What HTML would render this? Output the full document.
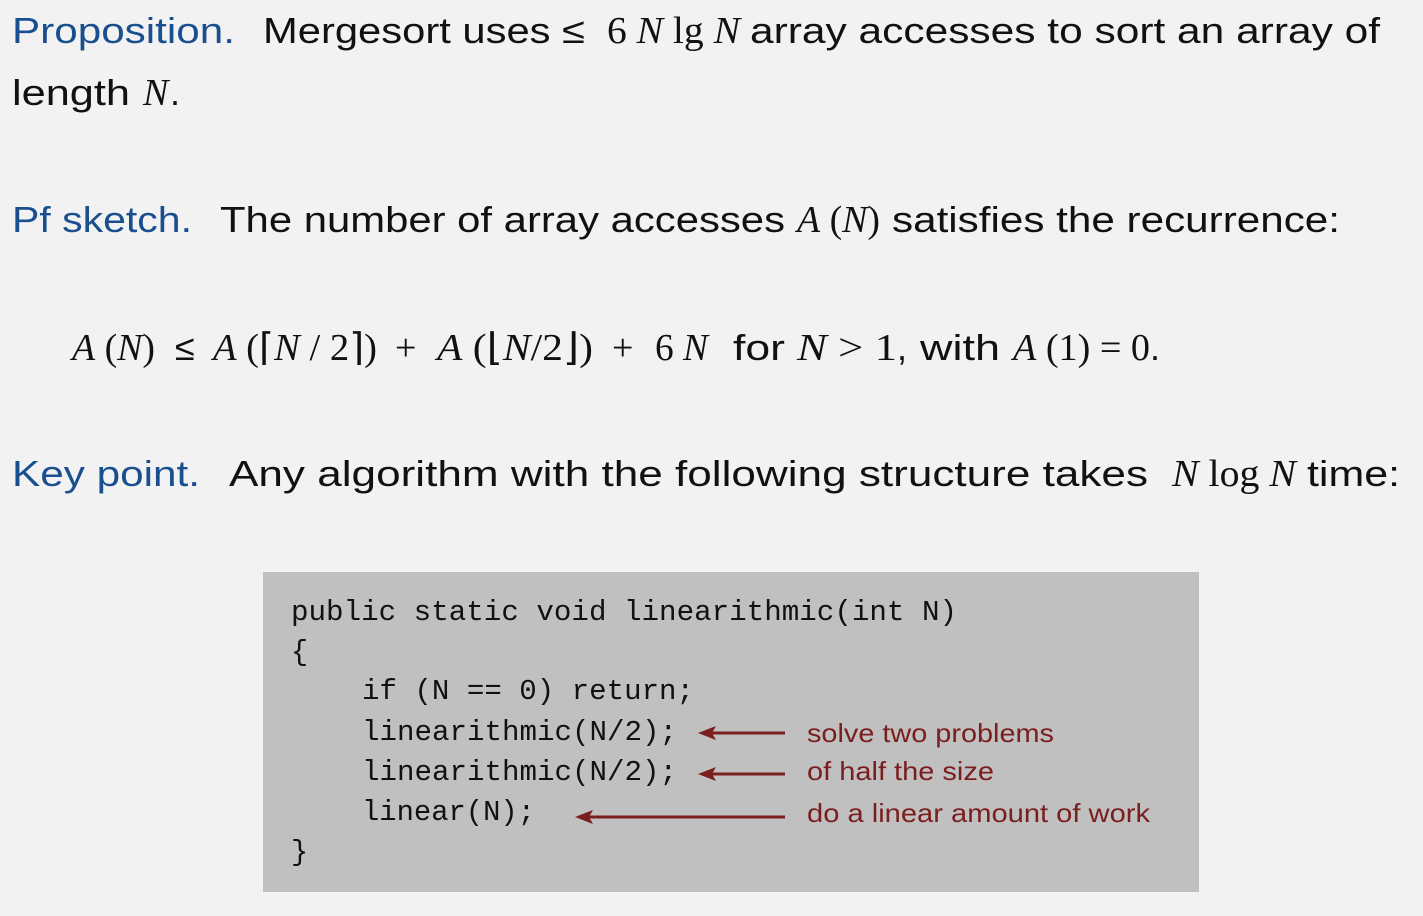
<!DOCTYPE html>
<html><head><meta charset="utf-8"><style>
html,body{margin:0;padding:0;background:#f2f2f2;}
svg{display:block}
.s{font-family:"Liberation Sans",sans-serif;font-size:36px;fill:#111}
.b{fill:#1a4f8f}
.m{font-family:"Liberation Serif",serif;font-size:38px;fill:#111}
.i{font-style:italic}
.c{font-family:"Liberation Mono",monospace;font-size:28.5px;fill:#111}
.r{font-family:"Liberation Sans",sans-serif;font-size:26px;fill:#7a1e1e}
</style></head><body>
<svg width="1423" height="916" xmlns="http://www.w3.org/2000/svg">
<rect width="1423" height="916" fill="#f2f2f2"/>
<text class="s b" x="12" y="43" textLength="223" lengthAdjust="spacingAndGlyphs">Proposition.</text>
<text class="s" x="263" y="43" textLength="322" lengthAdjust="spacingAndGlyphs">Mergesort uses ≤</text>
<text class="m" x="607" y="43" textLength="133" lengthAdjust="spacingAndGlyphs">6 <tspan class="i">N</tspan> lg <tspan class="i">N</tspan></text>
<text class="s" x="750" y="43" textLength="630" lengthAdjust="spacingAndGlyphs">array accesses to sort an array of</text>
<text class="s" x="12" y="105" textLength="118" lengthAdjust="spacingAndGlyphs">length</text>
<text class="m i" x="143" y="105">N</text><text class="s" x="170" y="105">.</text>

<text class="s b" x="12" y="232" textLength="180" lengthAdjust="spacingAndGlyphs">Pf sketch.</text>
<text class="s" x="220" y="232" textLength="565" lengthAdjust="spacingAndGlyphs">The number of array accesses</text>
<text class="m" x="797" y="232" textLength="83" lengthAdjust="spacingAndGlyphs"><tspan class="i">A</tspan> (<tspan class="i">N</tspan>)</text>
<text class="s" x="892" y="232" textLength="448" lengthAdjust="spacingAndGlyphs">satisfies the recurrence:</text>

<text class="m" x="72" y="360" textLength="83" lengthAdjust="spacingAndGlyphs"><tspan class="i">A</tspan> (<tspan class="i">N</tspan>)</text>
<text class="s" x="175" y="360">≤</text>
<text class="m" x="213" y="360" textLength="164" lengthAdjust="spacingAndGlyphs"><tspan class="i">A</tspan> (⌈<tspan class="i">N</tspan> / 2⌉)</text>
<text class="m" x="395" y="360">+</text>
<text class="m" x="437" y="360" textLength="156" lengthAdjust="spacingAndGlyphs"><tspan class="i">A</tspan> (⌊<tspan class="i">N</tspan>/2⌋)</text>
<text class="m" x="612" y="360">+</text>
<text class="m" x="655" y="360" textLength="53" lengthAdjust="spacingAndGlyphs">6 <tspan class="i">N</tspan></text>
<text class="s" x="733" y="360" textLength="52" lengthAdjust="spacingAndGlyphs">for</text>
<text class="m" x="797" y="360" textLength="100" lengthAdjust="spacingAndGlyphs"><tspan class="i">N</tspan> &gt; 1</text><text class="s" x="897" y="360">,</text>
<text class="s" x="920" y="360" textLength="80" lengthAdjust="spacingAndGlyphs">with</text>
<text class="m" x="1013" y="360" textLength="137" lengthAdjust="spacingAndGlyphs"><tspan class="i">A</tspan> (1) = 0</text><text class="s" x="1150" y="360">.</text>

<text class="s b" x="12" y="486" textLength="188" lengthAdjust="spacingAndGlyphs">Key point.</text>
<text class="s" x="229" y="486" textLength="919" lengthAdjust="spacingAndGlyphs">Any algorithm with the following structure takes</text>
<text class="m" x="1172" y="486" textLength="124" lengthAdjust="spacingAndGlyphs"><tspan class="i">N</tspan> log <tspan class="i">N</tspan></text>
<text class="s" x="1307" y="486" textLength="93" lengthAdjust="spacingAndGlyphs">time:</text>

<rect x="263" y="572" width="936" height="320" fill="#c0c0c0"/>
<text class="c" x="291" y="620" textLength="666" lengthAdjust="spacingAndGlyphs">public static void linearithmic(int N)</text>
<text class="c" x="291" y="660">{</text>
<text class="c" x="362" y="699" textLength="332" lengthAdjust="spacingAndGlyphs">if (N == 0) return;</text>
<text class="c" x="362" y="740" textLength="315" lengthAdjust="spacingAndGlyphs">linearithmic(N/2);</text>
<text class="c" x="362" y="780" textLength="315" lengthAdjust="spacingAndGlyphs">linearithmic(N/2);</text>
<text class="c" x="362" y="820" textLength="173" lengthAdjust="spacingAndGlyphs">linear(N);</text>
<text class="c" x="291" y="860">}</text>
<g stroke="#7a1e1e" stroke-width="3" fill="#7a1e1e">
<line x1="785" y1="733" x2="710" y2="733"/><polygon points="698,733 716,726 712,733 716,740" stroke="none"/>
<line x1="785" y1="774" x2="710" y2="774"/><polygon points="698,774 716,767 712,774 716,781" stroke="none"/>
<line x1="785" y1="817" x2="588" y2="817"/><polygon points="575,817 593,810 589,817 593,824" stroke="none"/>
</g>
<text class="r" x="807" y="742" textLength="247" lengthAdjust="spacingAndGlyphs">solve two problems</text>
<text class="r" x="807" y="780" textLength="187" lengthAdjust="spacingAndGlyphs">of half the size</text>
<text class="r" x="807" y="822" textLength="343" lengthAdjust="spacingAndGlyphs">do a linear amount of work</text>
</svg>
</body></html>
